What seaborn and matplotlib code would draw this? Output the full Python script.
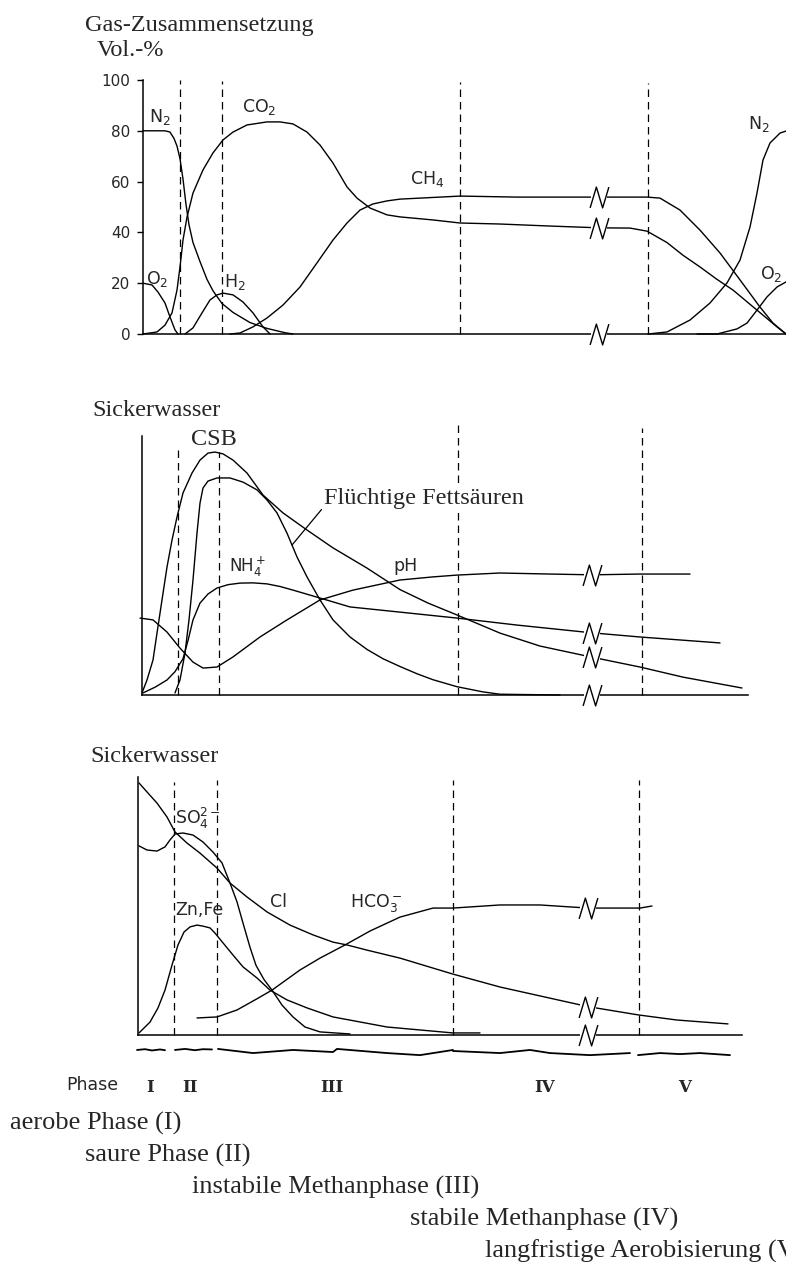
"""
Gas- und Sickerwasserentwicklung in den Deponiephasen I - V
(schematisch, Werte aus der Vorlage abgelesen)
"""
import matplotlib
matplotlib.use("Agg")
import matplotlib.pyplot as plt
from matplotlib.path import Path
import seaborn as sns

W, H = 786, 1262  # figure size in px

# ---------------- Gas-Zusammensetzung (Vol.-%) ----------------
# t = Zeit (willkuerliche Einheiten, gleiche Skala fuer alle Teilbilder)
n2a_t = [143, 165, 170, 174, 177, 180, 183, 186, 189, 193, 200, 207, 213, 222, 233, 250, 267, 285, 293]
n2a = [80, 80, 79.5, 77, 74, 69, 61, 51, 43, 36, 28.5, 21.5, 17, 12, 8.5, 4.5, 2.2, 0.5, 0]

o2a_t = [143, 152, 158, 165, 170, 175, 178]
o2a = [20, 19.3, 16.5, 12.2, 6.7, 1.6, 0]

co2_t = [143, 157, 165, 172, 177, 180, 183, 187, 193, 203, 213, 223, 233, 247, 267, 280, 293,
         307, 320, 333, 347, 357, 370, 387, 400, 433, 460, 500, 550, 599, 630, 647, 667, 683,
         700, 717, 733, 757, 777, 786]
co2 = [0, 0.8, 3.5, 8.3, 17.3, 26.4, 37, 46, 55.5, 64.6, 71.3, 76.4, 79.5, 82.3, 83.5, 83.5, 82.7,
       79.5, 74.4, 67.3, 57.9, 53.5, 49.6, 46.9, 46.1, 44.9, 43.7, 43.3, 42.5, 41.8, 41.7, 40.5, 36, 31,
       26.4, 21.5, 17.3, 9.4, 2.8, 0]

h2_t = [185, 193, 202, 210, 217, 223, 233, 243, 253, 263, 270]
h2 = [0, 2.4, 8.3, 13.4, 15.4, 16.1, 15.4, 12.6, 8.3, 2.8, 0]

ch4_t = [230, 240, 253, 267, 283, 300, 317, 333, 347, 360, 373, 387, 400, 460, 517, 599, 647,
         660, 680, 700, 720, 740, 760, 773, 786]
ch4 = [0, 0.4, 2.8, 6.3, 11.4, 18.5, 28, 37, 43.7, 48.8, 51.2, 52.4, 53.1, 54.3, 53.9, 53.9, 53.9,
       53.5, 48.8, 40.9, 31.9, 21.3, 10.6, 4.3, 0]

n2b_t = [648, 667, 690, 710, 727, 740, 750, 757, 763, 770, 780, 786]
n2b = [0, 0.8, 5.5, 12.2, 20.1, 29.1, 42.1, 55.5, 68.5, 75.2, 79.1, 79.9]

o2b_t = [697, 717, 737, 747, 757, 767, 777, 786]
o2b = [0, 0, 2, 4.3, 9.4, 14.6, 18.5, 20.5]

gas_phase_t = [180, 222, 460, 648]
gas_phase_top = [100, 99.6, 99.2, 98.8]
gas_break_t = 599
gas_break_v = [53.9, 41.8, 0]
gas_ticks = [0, 20, 40, 60, 80, 100]

# ---------------- Sickerwasser 1 (relative Konzentration) ----------------
csb_t = [142, 147, 153, 157, 162, 167, 172, 177, 183, 192, 200, 208, 215, 223, 233, 247, 263, 283,
         307, 333, 367, 400, 428, 457, 500, 540, 592, 640, 683, 742]
csb = [0.8, 5.8, 13.5, 23.9, 36.7, 49.4, 59.8, 68.7, 78, 85.7, 90.7, 93.4, 93.8, 93.1, 90.7, 85.7, 77.2,
       70.3, 63.7, 56.8, 49, 40.7, 35.5, 30.9, 23.9, 18.9, 14.6, 10.8, 6.9, 2.7]

fett_t = [175, 180, 185, 189, 193, 197, 200, 203, 208, 217, 230, 243, 257, 267, 277, 287, 297, 307,
          320, 333, 350, 367, 383, 400, 417, 433, 457, 483, 500, 560]
fett = [0.8, 5.8, 16.2, 29, 44.4, 62.5, 74.1, 79.9, 82.6, 83.8, 83.8, 82.2, 79.2, 75.3, 70.3, 62.5, 53.3,
        45.6, 36.7, 29, 22.4, 17.6, 14, 11, 8.2, 5.9, 3.2, 1.2, 0.3, 0]

nh4_t = [143, 155, 167, 175, 183, 188, 193, 200, 208, 217, 228, 240, 253, 267, 280, 293, 308, 323,
         350, 400, 457, 517, 592, 640, 720]
nh4 = [0.8, 3, 5.8, 9, 14, 21, 29, 35.5, 39, 41.3, 42.6, 43.2, 43.3, 42.9, 41.9, 40.5, 38.8, 37.1,
       34, 32, 29.7, 27, 24, 22.4, 20.1]

ph_t = [140, 153, 167, 180, 193, 203, 217, 233, 260, 287, 320, 353, 400, 433, 457, 500, 550, 592, 640, 690]
ph = [29.7, 29, 24.3, 18.1, 12.7, 10.4, 10.8, 14.7, 22.4, 29, 36.7, 40.5, 44.4, 45.6, 46.3, 47.1, 46.7,
      46.4, 46.7, 46.7]

sw1_phase_t = [178, 219, 458, 642]
sw1_phase_top = [94.6, 93.8, 104.2, 103.1]
sw1_break_t = 592
sw1_break_v = [46.4, 24, 14.6, 0]

# ---------------- Sickerwasser 2 (relative Konzentration) ----------------
cl_t = [139, 147, 157, 167, 175, 187, 200, 217, 230, 247, 267, 290, 313, 333, 347, 367, 400, 453,
        500, 588, 638, 677, 728]
cl = [97.7, 94.2, 89.9, 84.5, 78.7, 74.4, 70.5, 64.7, 58.9, 53.5, 47.7, 42.6, 38.8, 36, 34.9, 32.9,
      29.8, 23.6, 18.6, 11, 7.8, 5.8, 4.3]

so4_t = [139, 147, 157, 165, 170, 175, 183, 193, 203, 213, 222, 230, 237, 243, 250, 256, 264, 272,
         282, 293, 305, 320, 350]
so4 = [73.3, 71.7, 71.3, 72.9, 75.6, 77.9, 78.3, 77.5, 74.8, 70.9, 66.7, 58.9, 51.6, 43.4, 34, 27,
       21.5, 17.4, 11.6, 7, 3.1, 1.2, 0.4]

znfe_t = [139, 150, 158, 165, 172, 178, 184, 190, 197, 203, 210, 215, 223, 233, 243, 257, 270, 287,
          307, 333, 387, 453, 480]
znfe = [0.8, 5, 10.5, 17.4, 27.1, 34.9, 39.9, 41.9, 42.6, 42.2, 41.5, 39.5, 35.7, 31, 26.4, 22.1,
        17.4, 13.6, 10.5, 7, 3.1, 0.8, 0.8]

hco3_t = [197, 217, 237, 255, 272, 300, 320, 345, 370, 400, 433, 453, 500, 540, 588, 640, 652]
hco3 = [6.6, 7, 9.7, 13.6, 17.4, 25.2, 29.8, 34.9, 40.3, 45.7, 49.2, 49.2, 50.4, 50.4, 49.2, 49.2, 50]

sw2_phase_t = [174, 217, 453, 639]
sw2_phase_top = [98, 98.8, 98.8, 98.8]
sw2_break_t = 588
sw2_break_v = [49.2, 11, 0]

# Phasenbalken (handgezeichnete Wellenlinie unter der Achse)
wave_t = [[137, 145, 152, 160, 165],
          [175, 185, 195, 203, 212],
          [218, 253, 293, 333, 337, 387, 420, 453],
          [453, 500, 530, 550, 590, 630],
          [638, 660, 680, 700, 730]]
wave_v = [[-5.8, -5.5, -6, -5.6, -5.9],
          [-5.8, -5.4, -5.9, -5.5, -5.6],
          [-5.4, -7, -5.8, -6.6, -5.4, -7, -7.8, -5.8],
          [-6.2, -7, -5.8, -7, -7.8, -7],
          [-7.8, -7, -7.4, -7, -7.8]]

phase_numerals = ["I", "II", "III", "IV", "V"]
phase_centers = [150, 190, 332, 545, 685]
phase_names = ["aerobe Phase (I)", "saure Phase (II)", "instabile Methanphase (III)",
               "stabile Methanphase (IV)", "langfristige Aerobisierung (V)"]

# ---------------- drawing ----------------
sns.set_theme(style="white")
plt.rcParams["font.family"] = ["DejaVu Sans"]
plt.rcParams["mathtext.default"] = "regular"
SERIF = "Liberation Serif"

fig = plt.figure(figsize=(W / 100, H / 100), dpi=100)


def fx(px):
    return px / W


def fy(py):
    return 1 - py / H


def make_panel(top, bottom, zero, scale, axis_t, end_t):
    ax = fig.add_axes([0, 1 - bottom / H, 1, (bottom - top) / H])
    ax.patch.set_alpha(0)
    ax.spines[["top", "right"]].set_visible(False)
    for s in ("left", "bottom"):
        ax.spines[s].set_color("black")
        ax.spines[s].set_linewidth(1.1)
    ax.spines["left"].set_position(("data", axis_t))
    ax.spines["left"].set_bounds(0, 100)
    ax.spines["bottom"].set_position(("data", 0))
    ax.spines["bottom"].set_bounds(axis_t, end_t)
    ax.lims = (0, W), ((zero - bottom) / scale, (zero - top) / scale)
    return ax


def finish(ax):
    ax.set_xlim(*ax.lims[0])
    ax.set_ylim(*ax.lims[1])
    ax.set_xticks([])
    ax.set_xlabel("")
    ax.set_ylabel("")


def curve(ax, t, v, lw=1.0):
    sns.lineplot(x=t, y=v, ax=ax, color="black", linewidth=lw, sort=False,
                 estimator=None, legend=False)


def phase_lines(ax, t, top):
    ax.vlines(t, 0, top, colors="black", linewidth=0.9, linestyles=(0, (6, 4)))


ZIGZAG = Path([(-0.45, -0.5), (-0.15, 0.5), (0.15, -0.5), (0.45, 0.5)],
              [Path.MOVETO, Path.LINETO, Path.LINETO, Path.LINETO])


def breaks(ax, t, vals):
    ax.plot([t] * len(vals), vals, ls="none", marker="_", ms=11, mew=6, color="white", zorder=3)
    ax.plot([t] * len(vals), vals, ls="none", marker=ZIGZAG, ms=15, mew=1.0,
            mfc="none", mec="black", zorder=4)


def label(ax, t, v, s, size=12.5, **kw):
    ax.text(t, v, s, fontsize=size, va="center", ha="left", clip_on=False, **kw)


# ---- panel 1: gas ----
ax1 = make_panel(60, 350, 334, 2.54, 143, 786)
for t, v in [(n2a_t, n2a), (o2a_t, o2a), (co2_t, co2), (h2_t, h2), (ch4_t, ch4), (n2b_t, n2b), (o2b_t, o2b)]:
    curve(ax1, t, v)
phase_lines(ax1, gas_phase_t, gas_phase_top)
breaks(ax1, gas_break_t, gas_break_v)
label(ax1, 149, 85.5, "N$_2$")
label(ax1, 146, 21.5, "O$_2$")
label(ax1, 224, 20.5, "H$_2$")
label(ax1, 242, 89.5, "CO$_2$")
label(ax1, 410, 61, "CH$_4$")
label(ax1, 748, 82.5, "N$_2$")
label(ax1, 760, 23.5, "O$_2$")
finish(ax1)
ax1.set_yticks(gas_ticks)
ax1.set_yticklabels([str(v) for v in gas_ticks])
ax1.tick_params(axis="y", left=True, length=4, width=1, color="black", pad=5, labelsize=11)

fig.text(fx(85), fy(26), "Gas-Zusammensetzung", family=SERIF, size=17.5, va="center")
fig.text(fx(97), fy(50), "Vol.-%", family=SERIF, size=17.5, va="center")

# ---- panel 2: Sickerwasser (CSB, Fettsaeuren, NH4, pH) ----
ax2 = make_panel(400, 710, 695, 2.59, 142, 748)
for t, v in [(csb_t, csb), (fett_t, fett), (nh4_t, nh4), (ph_t, ph)]:
    curve(ax2, t, v)
phase_lines(ax2, sw1_phase_t, sw1_phase_top)
breaks(ax2, sw1_break_t, sw1_break_v)
label(ax2, 191, 98.5, "CSB", size=17.5, family=SERIF)
label(ax2, 229, 49.5, "NH$_4^+$", size=12)
label(ax2, 393, 49.8, "pH", size=12.5)
ax2.annotate("Flüchtige Fettsäuren", xy=(292, 57.9), xytext=(324, 76), fontsize=17.5,
             family=SERIF, va="center", ha="left",
             bbox=dict(boxstyle="square,pad=0.1", fc="white", ec="none"),
             arrowprops=dict(arrowstyle="-", lw=0.9, color="black", shrinkA=0, shrinkB=0,
                             relpos=(0, 0.1)))
finish(ax2)
ax2.set_yticks([])
fig.text(fx(92), fy(410), "Sickerwasser", family=SERIF, size=17.5, va="center")

# ---- panel 3: Sickerwasser (Cl, SO4, Zn/Fe, HCO3) ----
ax3 = make_panel(740, 1070, 1035, 2.58, 138, 742)
for t, v in [(cl_t, cl), (so4_t, so4), (znfe_t, znfe), (hco3_t, hco3)]:
    curve(ax3, t, v)
for t, v in zip(wave_t, wave_v):
    curve(ax3, t, v, lw=1.3)
phase_lines(ax3, sw2_phase_t, sw2_phase_top)
breaks(ax3, sw2_break_t, sw2_break_v)
label(ax3, 175, 84, "SO$_4^{2-}$", size=12.5)
label(ax3, 175, 48.5, "Zn,Fe", size=12.5)
label(ax3, 270, 51.5, "Cl", size=12.5)
label(ax3, 350, 51.2, "HCO$_3^-$", size=12.5)
for c, s in zip(phase_centers, phase_numerals):
    ax3.text(c, -20.2, s, family="DejaVu Serif", weight="bold", fontsize=12,
             ha="center", va="center", clip_on=False)
finish(ax3)
ax3.set_yticks([])
fig.text(fx(90), fy(757), "Sickerwasser", family=SERIF, size=17.5, va="center")
fig.text(fx(66), fy(1085), "Phase", size=12.5, va="center")

# ---- Legende der Phasen ----
for i, name in enumerate(phase_names):
    fig.text(fx([10, 85, 192, 410, 485][i]), fy(1123 + 32 * i), name,
             family=SERIF, size=19, va="center")

fig.savefig("out.png", dpi=100)
